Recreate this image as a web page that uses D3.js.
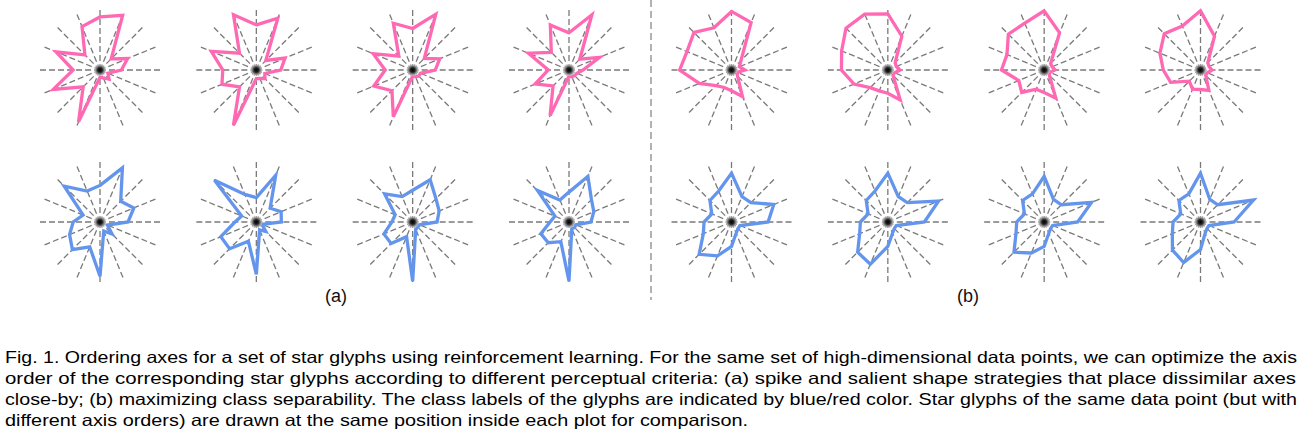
<!DOCTYPE html>
<html><head><meta charset="utf-8">
<script src="https://cdn.jsdelivr.net/npm/d3@7"></script>
<style>
html,body{margin:0;padding:0;background:#fff;}
svg{display:block;}
</style></head>
<body>
<svg id="chart" width="1304" height="443"></svg>
<script>
// axis order: N, NNE, NE, ENE, E, ESE, SE, SSE, S, SSW, SW, WSW, W, WNW, NW, NNW (clockwise)
const axisCount = 16;
const panels = ["(a)", "(b)"];
const classes = ["red", "blue"];
// (a) red glyphs
const a_red_1 = [0.87, 0.97, 0.26, 0.49, 0.35, 0.14, 0.21, 0.14, 0.12, 0.92, 0.39, 0.83, 0.44, 0.78, 0.35, 0.77];
const a_red_2 = [0.74, 0.92, 0.22, 0.51, 0.40, 0.15, 0.20, 0.15, 0.14, 0.98, 0.39, 0.61, 0.55, 0.80, 0.39, 0.98];
const a_red_3 = [0.68, 0.99, 0.27, 0.48, 0.37, 0.14, 0.14, 0.12, 0.10, 0.83, 0.48, 0.69, 0.45, 0.70, 0.32, 0.83];
const a_red_4 = [0.61, 0.98, 0.25, 0.54, 0.23, 0.14, 0.13, 0.12, 0.10, 0.81, 0.37, 0.60, 0.34, 0.72, 0.41, 0.80];
// (b) red glyphs
const b_red_1 = [0.96, 0.84, 0.22, 0.14, 0.22, 0.10, 0.14, 0.47, 0.34, 0.31, 0.36, 0.57, 0.85, 0.79, 0.87, 0.75];
const b_red_2 = [0.92, 0.60, 0.17, 0.15, 0.20, 0.12, 0.12, 0.53, 0.38, 0.37, 0.41, 0.60, 0.76, 0.82, 0.97, 0.99];
const b_red_3 = [0.97, 0.66, 0.15, 0.14, 0.18, 0.10, 0.12, 0.50, 0.37, 0.34, 0.52, 0.45, 0.70, 0.66, 0.83, 0.83];
const b_red_4 = [0.97, 0.60, 0.17, 0.15, 0.19, 0.12, 0.12, 0.36, 0.32, 0.34, 0.26, 0.53, 0.61, 0.72, 0.84, 0.78];
// (a) blue glyphs
const a_blue_1 = [0.60, 0.96, 0.48, 0.60, 0.46, 0.13, 0.28, 0.16, 0.89, 0.44, 0.64, 0.54, 0.44, 0.30, 0.83, 0.55];
const a_blue_2 = [0.40, 0.83, 0.32, 0.44, 0.41, 0.10, 0.22, 0.14, 0.86, 0.34, 0.62, 0.63, 0.35, 0.26, 0.97, 0.49];
const a_blue_3 = [0.52, 0.75, 0.54, 0.47, 0.40, 0.12, 0.12, 0.13, 0.97, 0.26, 0.50, 0.51, 0.34, 0.31, 0.65, 0.45];
const a_blue_4 = [0.49, 0.81, 0.52, 0.44, 0.36, 0.12, 0.13, 0.12, 0.97, 0.35, 0.48, 0.50, 0.31, 0.25, 0.73, 0.39];
// (b) blue glyphs
const b_blue_1 = [0.80, 0.45, 0.45, 0.75, 0.60, 0.15, 0.15, 0.20, 0.40, 0.60, 0.75, 0.50, 0.45, 0.35, 0.50, 0.55];
const b_blue_2 = [0.80, 0.45, 0.45, 0.90, 0.60, 0.15, 0.15, 0.20, 0.40, 0.75, 0.70, 0.50, 0.45, 0.35, 0.50, 0.55];
const b_blue_3 = [0.75, 0.40, 0.40, 0.84, 0.55, 0.15, 0.15, 0.20, 0.40, 0.55, 0.70, 0.50, 0.45, 0.35, 0.50, 0.50];
const b_blue_4 = [0.80, 0.40, 0.40, 0.94, 0.55, 0.15, 0.15, 0.20, 0.45, 0.72, 0.65, 0.50, 0.45, 0.35, 0.50, 0.50];

const captionLines = [
  "Fig. 1. Ordering axes for a set of star glyphs using reinforcement learning. For the same set of high-dimensional data points, we can optimize the axis",
  "order of the corresponding star glyphs according to different perceptual criteria: (a) spike and salient shape strategies that place dissimilar axes",
  "close-by; (b) maximizing class separability. The class labels of the glyphs are indicated by blue/red color. Star glyphs of the same data point (but with",
  "different axis orders) are drawn at the same position inside each plot for comparison."
];
const captionWidths = [1292, 1291, 1292, 743];

const glyphs = [
  {panel:0, row:0, col:0, cls:0, v:a_red_1},{panel:0, row:0, col:1, cls:0, v:a_red_2},
  {panel:0, row:0, col:2, cls:0, v:a_red_3},{panel:0, row:0, col:3, cls:0, v:a_red_4},
  {panel:1, row:0, col:0, cls:0, v:b_red_1},{panel:1, row:0, col:1, cls:0, v:b_red_2},
  {panel:1, row:0, col:2, cls:0, v:b_red_3},{panel:1, row:0, col:3, cls:0, v:b_red_4},
  {panel:0, row:1, col:0, cls:1, v:a_blue_1},{panel:0, row:1, col:1, cls:1, v:a_blue_2},
  {panel:0, row:1, col:2, cls:1, v:a_blue_3},{panel:0, row:1, col:3, cls:1, v:a_blue_4},
  {panel:1, row:1, col:0, cls:1, v:b_blue_1},{panel:1, row:1, col:1, cls:1, v:b_blue_2},
  {panel:1, row:1, col:2, cls:1, v:b_blue_3},{panel:1, row:1, col:3, cls:1, v:b_blue_4}
];

const svg = d3.select("#chart");
const defs = svg.append("defs");
const grad = defs.append("radialGradient").attr("id","dot");
grad.append("stop").attr("offset","0%").attr("stop-color","#000");
grad.append("stop").attr("offset","35%").attr("stop-color","#222");
grad.append("stop").attr("offset","65%").attr("stop-color","#888");
grad.append("stop").attr("offset","100%").attr("stop-color","#fff").attr("stop-opacity",0);

const panelStart = [100, 731.5];
const colX = d3.scaleLinear().domain([0, 3]).range([0, 469]);
const rowY = d3.scaleLinear().domain([0, 1]).range([70, 222]);
const r = d3.scaleLinear().domain([0, 1]).range([0, 61]);
const angle = d3.scaleLinear().domain([0, axisCount]).range([0, 2 * Math.PI]);
const color = d3.scaleOrdinal().domain(classes).range(["#ff69b4", "#6495ed"]);

const line = d3.lineRadial()
  .angle((d, i) => angle(i))
  .radius(d => r(d))
  .curve(d3.curveLinearClosed);

const g = svg.selectAll("g.glyph").data(glyphs).join("g")
  .attr("class","glyph")
  .attr("transform", d => `translate(${panelStart[d.panel] + colX(d.col)},${rowY(d.row)})`);

g.selectAll("line.axis").data(d3.range(axisCount)).join("line")
  .attr("class","axis")
  .attr("x1",0).attr("y1",0)
  .attr("x2", i => r(1) * Math.sin(angle(i)))
  .attr("y2", i => -r(1) * Math.cos(angle(i)))
  .attr("stroke","#7a7a7a")
  .attr("stroke-width",1.3)
  .attr("stroke-dasharray","6,3");

g.append("path")
  .attr("d", d => line(d.v))
  .attr("fill","none")
  .attr("stroke", d => color(classes[d.cls]))
  .attr("stroke-width",3.3)
  .attr("stroke-linejoin","miter")
  .attr("stroke-miterlimit",4);

g.append("circle").attr("r",6.5).attr("fill","url(#dot)");

// divider
svg.append("line")
  .attr("x1",651).attr("x2",651).attr("y1",0).attr("y2",300)
  .attr("stroke","#999").attr("stroke-width",1.5)
  .attr("stroke-dasharray","7,4");

// panel labels
svg.selectAll("text.panel").data(panels).join("text")
  .attr("class","panel")
  .attr("x",(d,i)=>[336,968][i]).attr("y",302)
  .attr("text-anchor","middle")
  .attr("font-family","'Liberation Sans', Arial, sans-serif")
  .attr("font-size",18)
  .attr("fill","#111")
  .text(d=>d);

// caption
svg.selectAll("text.caption").data(captionLines).join("text")
  .attr("class","caption")
  .attr("x",5)
  .attr("y",(d,i)=>363 + i*21)
  .attr("font-family","'Liberation Sans', Arial, sans-serif")
  .attr("font-size",16.5)
  .attr("fill","#000")
  .attr("textLength",(d,i)=>captionWidths[i])
  .attr("lengthAdjust","spacingAndGlyphs")
  .text(d=>d);
</script>
</body></html>
